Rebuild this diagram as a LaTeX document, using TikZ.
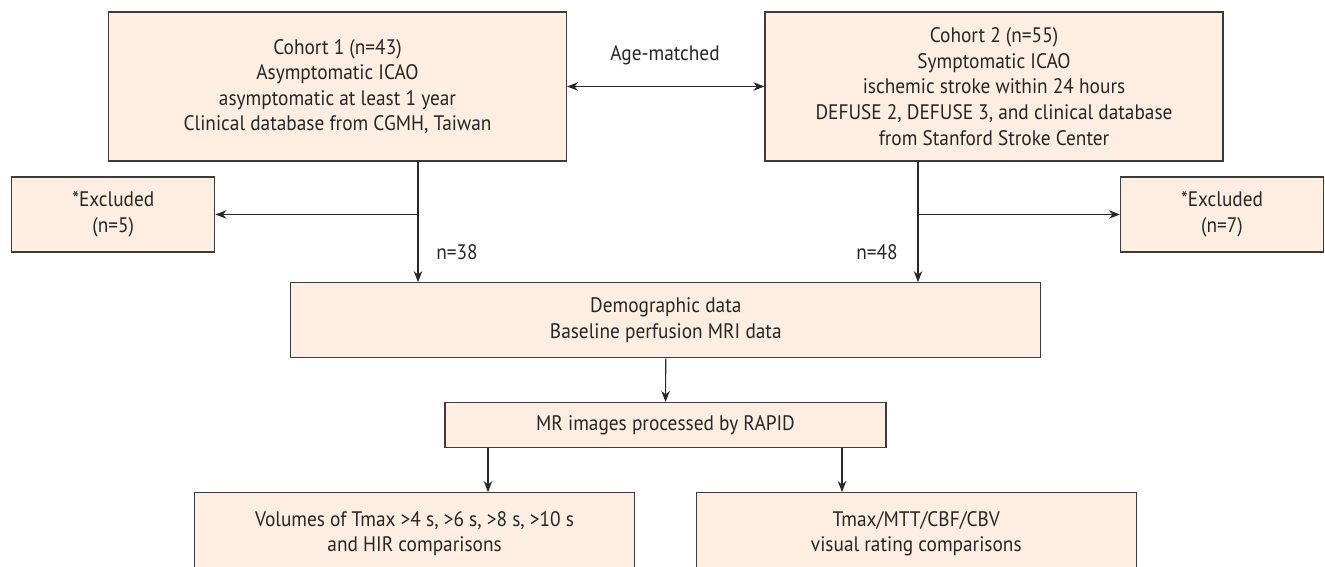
\documentclass[tikz,border=0pt]{standalone}
\usepackage{fontspec}
\setmainfont{PT Sans}[FakeStretch=0.92]
\usetikzlibrary{arrows.meta}
\definecolor{boxfill}{RGB}{253,238,225}
\definecolor{boxline}{RGB}{60,60,60}
\definecolor{arr}{RGB}{40,40,40}
\begin{document}
\begin{tikzpicture}[x=1pt,y=1pt,
  box/.style={draw=boxline,line width=1.3pt,fill=boxfill,inner sep=0pt,align=center,
    font=\fontsize{21}{25.6}\selectfont,text=black!85},
  conn/.style={draw=arr,line width=1.1pt,-{Stealth[length=11pt,width=8.5pt]}},
  lab/.style={font=\fontsize{21}{25.6}\selectfont,text=black!85,inner sep=0pt}]
\useasboundingbox (0,0) rectangle (1325,-567);
\node[box,minimum width=458pt,minimum height=149pt] (c1) at (337.5,-86.5)
  {Cohort 1 (n=43)\\Asymptomatic ICAO\\asymptomatic at least 1 year\\Clinical database from CGMH, Taiwan};
\node[box,minimum width=458pt,minimum height=149pt] (c2) at (994,-86.5)
  {Cohort 2 (n=55)\\Symptomatic ICAO\\ischemic stroke within 24 hours\\DEFUSE 2, DEFUSE 3, and clinical database\\from Stanford Stroke Center};
\node[box,minimum width=203pt,minimum height=75pt] (ex1) at (113.3,-214.5) {*Excluded\\(n=5)};
\node[box,minimum width=203pt,minimum height=75pt] (ex2) at (1222,-214.5) {*Excluded\\(n=7)};
\node[box,minimum width=750pt,minimum height=75pt] (demo) at (665.8,-320.3)
  {Demographic data\\Baseline perfusion MRI data};
\node[box,minimum width=441pt,minimum height=45pt] (mr) at (665.5,-425) {MR images processed by RAPID};
\node[box,minimum width=440pt,minimum height=82pt] (b1) at (414.6,-533.7)
  {Volumes of Tmax >4 s, >6 s, >8 s, >10 s\\and HIR comparisons};
\node[box,minimum width=440pt,minimum height=82pt] (b2) at (916.3,-533.7)
  {Tmax/MTT/CBF/CBV\\visual rating comparisons};
\node[lab] (age) at (665,-55) {Age-matched};
\node[lab] (n38) at (457,-252) {n=38};
\node[lab] (n48) at (877,-252) {n=48};
\coordinate (s1) at (418,-161);
\coordinate (j1) at (418,-214.5);
\coordinate (s2) at (918,-161);
\coordinate (j2) at (918,-214.5);
\coordinate (m1) at (488,-447.5);
\coordinate (m2) at (842,-447.5);
\draw[conn,{Stealth[length=11pt,width=8.5pt]}-{Stealth[length=11pt,width=8.5pt]}] (c1.east) -- (c2.west);
\draw[conn] (s1) -- (s1 |- demo.north);
\draw[conn] (j1) -- (ex1.east |- j1);
\draw[conn] (s2) -- (s2 |- demo.north);
\draw[conn] (j2) -- (ex2.west |- j2);
\draw[conn] (demo.south) -- (mr.north);
\draw[conn] (m1) -- (m1 |- b1.north);
\draw[conn] (m2) -- (m2 |- b2.north);
\end{tikzpicture}
\end{document}
